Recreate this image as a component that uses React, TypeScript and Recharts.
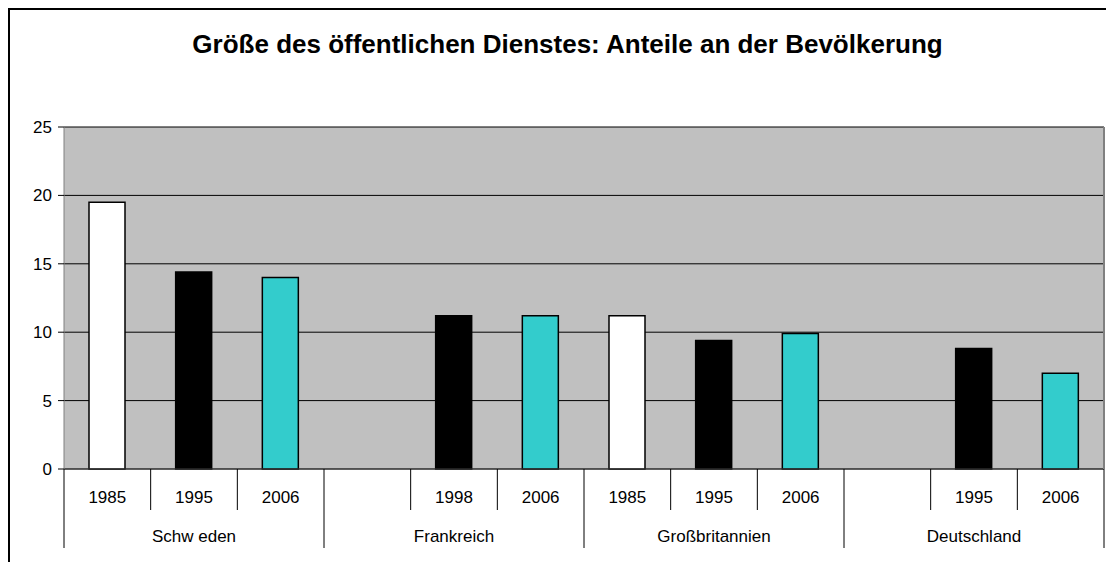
import { BarChart, Bar, Cell, XAxis, YAxis, CartesianGrid } from "recharts";

const years = ["1985", "1995", "2006", "", "1998", "2006", "1985", "1995", "2006", "", "1995", "2006"];
const countries = ["Schw eden", "Frankreich", "Großbritannien", "Deutschland"];
const values = [19.5, 14.4, 14.0, null, 11.2, 11.2, 11.2, 9.4, 9.9, null, 8.8, 7.0];
const yTicks = [0, 5, 10, 15, 20, 25];
const title = "Größe des öffentlichen Dienstes: Anteile an der Bevölkerung";

const yearColor: Record<string, string> = {
  "1985": "#ffffff",
  "1995": "#000000",
  "1998": "#000000",
  "2006": "#33cccc",
};

const data = values.map((v, i) => ({ slot: String(i), year: years[i], value: v }));

// layout (chart-local px)
const W = 1104;
const H = 560;
const TOP = 117;
const LEFT = 54;
const RIGHT = 10;
const PLOT_W = W - LEFT - RIGHT;
const PLOT_BOTTOM = 459;
const SLOT = PLOT_W / years.length;
const FONT = "'Liberation Sans', Arial, sans-serif";

function XTick(props: any) {
  const { x, index } = props;
  const half = SLOT / 2;
  const y0 = PLOT_BOTTOM;
  const groupStart = index % 3 === 0;
  return (
    <g>
      <line x1={x - half} x2={x - half} y1={y0} y2={y0 + (groupStart ? 79 : 41)} stroke="#000" />
      {index === years.length - 1 && (
        <line x1={x + half} x2={x + half} y1={y0} y2={y0 + 79} stroke="#000" />
      )}
      <text x={x} y={y0 + 34} textAnchor="middle" fontSize={17} fontFamily={FONT} fill="#000">
        {years[index]}
      </text>
      {index % 3 === 1 && (
        <text x={x} y={y0 + 73} textAnchor="middle" fontSize={17} fontFamily={FONT} fill="#000">
          {countries[Math.floor(index / 3)]}
        </text>
      )}
    </g>
  );
}

export default function App() {
  return (
    <div style={{ width: 1098, height: 554, overflow: "hidden", background: "#fff" }}>
      <div
        style={{
          position: "relative",
          borderTop: "2px solid #000",
          borderLeft: "2px solid #000",
          width: 1200,
          height: 700,
        }}
      >
        <div
          style={{
            position: "absolute",
            left: 0,
            top: 21,
            width: 1115,
            textAlign: "center",
            fontFamily: FONT,
            fontWeight: "bold",
            fontSize: 26,
            lineHeight: "26px",
            color: "#000",
          }}
        >
          {title}
        </div>
        <BarChart
          width={W}
          height={H}
          data={data}
          margin={{ top: TOP, right: RIGHT - 1, bottom: 6, left: 0 }}
          barSize={36}
        >
          <CartesianGrid vertical={false} stroke="#000" fill="#c0c0c0" fillOpacity={1} />
          <XAxis
            dataKey="slot"
            height={95}
            interval={0}
            tickLine={false}
            axisLine={{ stroke: "#404040" }}
            tick={<XTick />}
          />
          <XAxis xAxisId="top" orientation="top" dataKey="slot" height={0} tick={false} tickLine={false} axisLine={{ stroke: "#808080", strokeWidth: 2 }} />
          <YAxis
            domain={[0, 25]}
            ticks={yTicks}
            width={LEFT}
            tickSize={6}
            tickMargin={6}
            axisLine={{ stroke: "#808080" }}
            tickLine={{ stroke: "#000" }}
            tick={{ fontSize: 17, fontFamily: FONT, fill: "#000" }}
          />
          <YAxis yAxisId="right" orientation="right" width={1} domain={[0, 25]} tick={false} tickLine={false} axisLine={{ stroke: "#808080", strokeWidth: 2 }} />
          <Bar dataKey="value" isAnimationActive={false}>
            {data.map((d, i) => (
              <Cell key={i} fill={yearColor[d.year] ?? "#c0c0c0"} stroke="#000" strokeWidth={1.5} />
            ))}
          </Bar>
        </BarChart>
      </div>
    </div>
  );
}
